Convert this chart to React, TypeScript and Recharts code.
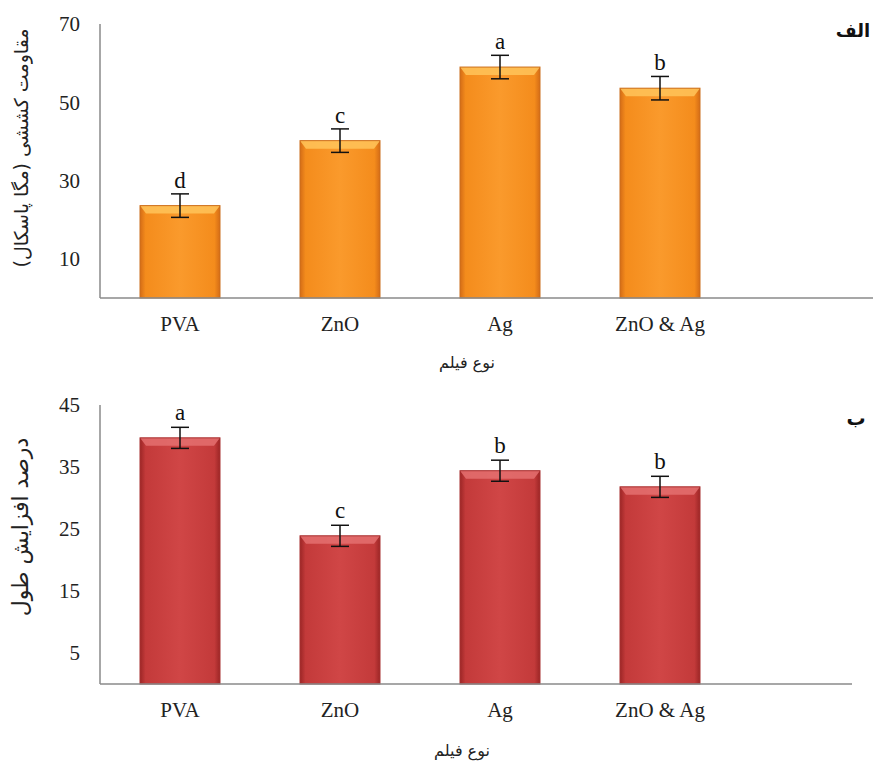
import React from 'react';
import { BarChart, Bar, XAxis, YAxis, ErrorBar, LabelList } from 'recharts';

// film types (x categories)
const films = ['PVA', 'ZnO', 'Ag', 'ZnO & Ag'];

// panel الف : tensile strength (MPa)
const tensile = [23.6, 40.2, 59.0, 53.6];
const tensileErr = [3, 3, 3, 3];
const tensileLetters = ['d', 'c', 'a', 'b'];
const tensileTicks = [10, 30, 50, 70];

// panel ب : elongation (%)
const elongation = [39.7, 23.9, 34.4, 31.8];
const elongationErr = [1.7, 1.7, 1.7, 1.7];
const elongationLetters = ['a', 'c', 'b', 'b'];
const elongationTicks = [5, 15, 25, 35, 45];

const topData = films.map((film, i) => ({
  film,
  value: tensile[i],
  err: tensileErr[i],
  letter: tensileLetters[i],
}));

const bottomData = films.map((film, i) => ({
  film,
  value: elongation[i],
  err: elongationErr[i],
  letter: elongationLetters[i],
}));

const serif = '"Liberation Serif", "Times New Roman", serif';
const persian = '"DejaVu Sans", "Noto Sans", sans-serif';

interface Palette {
  edge: string;
  main: string;
  light: string;
  bevel: string;
  outline: string;
}

const orange: Palette = {
  edge: '#D46C16',
  main: '#F48C1C',
  light: '#FA9A2C',
  bevel: '#FFC45A',
  outline: '#CC6F1C',
};

const red: Palette = {
  edge: '#9C2626',
  main: '#C33A3A',
  light: '#D04646',
  bevel: '#E47070',
  outline: '#A83030',
};

const makeBevelBar = (name: string, p: Palette) => (props: any) => {
  const { x, y, width, height, index } = props;
  if (!height || height <= 0) return <g />;
  const id = `${name}-grad-${index}`;
  const b = Math.min(8, height / 2);
  return (
    <g>
      <defs>
        <linearGradient id={id} x1="0" y1="0" x2="1" y2="0">
          <stop offset="0%" stopColor={p.edge} />
          <stop offset="7%" stopColor={p.main} />
          <stop offset="50%" stopColor={p.light} />
          <stop offset="93%" stopColor={p.main} />
          <stop offset="100%" stopColor={p.edge} />
        </linearGradient>
      </defs>
      <rect x={x} y={y} width={width} height={height} fill={`url(#${id})`} />
      <polygon
        points={`${x},${y} ${x + width},${y} ${x + width - 6},${y + b} ${x + 6},${y + b}`}
        fill={p.bevel}
        opacity={0.85}
      />
      <rect x={x} y={y} width={width} height={height} fill="none" stroke={p.outline} strokeWidth={1} />
    </g>
  );
};

const tickStyle = { fontFamily: serif, fontSize: 21, fill: '#222', style: { fontFamily: serif } };
const axisStroke = { stroke: '#8a8a8a', strokeWidth: 1.5 };
const letterStyle = { fontFamily: serif, fontSize: 23, fill: '#111' };

export default function App() {
  return (
    <div style={{ position: 'absolute', left: 0, top: 0, width: 873, height: 763, background: '#fff', overflow: 'hidden', fontFamily: serif }}>
      {/* panel الف */}
      <div style={{ position: 'absolute', left: 0, top: 0 }}>
        <BarChart width={873} height={390} data={topData} margin={{ top: 24, right: 0, bottom: 0, left: 0 }}>
          <XAxis
            dataKey="film"
            height={92}
            padding={{ left: 0, right: 133 }}
            axisLine={axisStroke}
            tickLine={false}
            tickSize={0}
            tickMargin={18}
            tick={tickStyle}
            interval={0}
          />
          <YAxis
            width={100}
            domain={[0, 70]}
            ticks={tensileTicks}
            axisLine={axisStroke}
            tickLine={false}
            tickSize={0}
            tickMargin={20}
            tick={tickStyle}
          />
          <Bar dataKey="value" barSize={80} isAnimationActive={false} shape={makeBevelBar('top', orange)}>
            <ErrorBar dataKey="err" width={9} stroke="#111" strokeWidth={1.5} direction="y" />
            <LabelList dataKey="letter" position="top" offset={18} style={letterStyle} />
          </Bar>
        </BarChart>
      </div>

      {/* panel ب */}
      <div style={{ position: 'absolute', left: 0, top: 390 }}>
        <BarChart width={873} height={373} data={bottomData} margin={{ top: 15, right: 21, bottom: 0, left: 0 }}>
          <XAxis
            dataKey="film"
            height={79}
            padding={{ left: 0, right: 112 }}
            axisLine={axisStroke}
            tickLine={false}
            tickSize={0}
            tickMargin={18}
            tick={tickStyle}
            interval={0}
          />
          <YAxis
            width={100}
            domain={[0, 45]}
            ticks={elongationTicks}
            axisLine={axisStroke}
            tickLine={false}
            tickSize={0}
            tickMargin={20}
            tick={tickStyle}
          />
          <Bar dataKey="value" barSize={80} isAnimationActive={false} shape={makeBevelBar('bottom', red)}>
            <ErrorBar dataKey="err" width={9} stroke="#111" strokeWidth={1.5} direction="y" />
            <LabelList dataKey="letter" position="top" offset={18} style={letterStyle} />
          </Bar>
        </BarChart>
      </div>

      {/* axis titles and panel letters */}
      <div
        dir="rtl"
        style={{
          position: 'absolute', left: 21, top: 148, transform: 'translate(-50%, -50%) rotate(-90deg)',
          whiteSpace: 'nowrap', fontFamily: persian, fontSize: 19, color: '#222',
        }}
      >
        مقاومت کششی (مگا پاسکال)
      </div>
      <div
        dir="rtl"
        style={{
          position: 'absolute', left: 20, top: 527, transform: 'translate(-50%, -50%) rotate(-90deg)',
          whiteSpace: 'nowrap', fontFamily: persian, fontSize: 22, color: '#222',
        }}
      >
        درصد افزایش طول
      </div>
      <div dir="rtl" style={{ position: 'absolute', left: 467, top: 362, transform: 'translate(-50%, -50%)', whiteSpace: 'nowrap', fontFamily: persian, fontSize: 16, color: '#222' }}>
        نوع فیلم
      </div>
      <div dir="rtl" style={{ position: 'absolute', left: 462, top: 750, transform: 'translate(-50%, -50%)', whiteSpace: 'nowrap', fontFamily: persian, fontSize: 16, color: '#222' }}>
        نوع فیلم
      </div>
      <div dir="rtl" style={{ position: 'absolute', left: 853, top: 30, transform: 'translate(-50%, -50%)', whiteSpace: 'nowrap', fontFamily: persian, fontSize: 18, fontWeight: 'bold', color: '#111' }}>
        الف
      </div>
      <div dir="rtl" style={{ position: 'absolute', left: 856, top: 418, transform: 'translate(-50%, -50%)', whiteSpace: 'nowrap', fontFamily: persian, fontSize: 19, fontWeight: 'bold', color: '#111' }}>
        ب
      </div>
    </div>
  );
}
